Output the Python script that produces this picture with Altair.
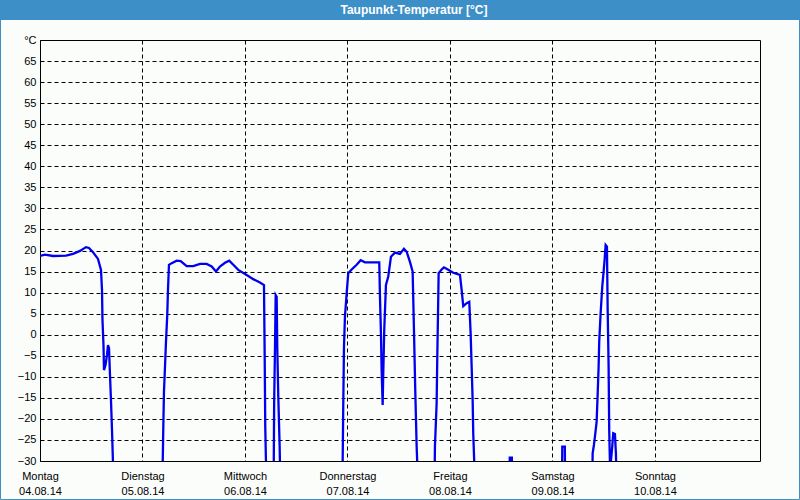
import json
import altair as alt
import pandas as pd

# Hours since Monday 04.08.14 00:00 and dew point values [°C]; values below -30 are off-scale
hours = [0, 1.17, 3.04, 6.09, 7.73, 9.37, 10.77, 11.47, 12.41, 13.58, 14.28, 14.52, 14.63, 14.87, 14.98,
         15.34, 15.69, 15.92, 16.16, 16.39, 16.62, 16.86, 17.09, 17.3,
         28.6, 28.73, 28.87, 29.03, 29.27, 29.5, 29.8, 29.97, 30.2, 30.84, 32.0, 32.94, 34.35, 35.89, 37.46,
         39.03, 40.2, 41.21, 42.14, 43.32, 44.32, 45.26, 46.43, 48.4, 49.94, 51.51, 52.45, 52.61, 52.75,
         52.92, 53.0,
         54.6, 54.74, 54.83, 55.02, 55.19, 55.42, 55.56, 55.8, 56.12, 56.19, 56.3,
         70.8, 70.87, 71.01, 71.18, 71.41, 71.81, 72.18, 72.98, 74.15, 75.09, 76.09, 79.44, 79.61, 79.84,
         80.0, 80.24, 80.38, 80.61, 81.01, 81.55, 82.18, 83.12, 84.29, 85.22, 85.86, 86.63, 87.26, 87.57,
         87.87, 88.2, 88.34, 88.5,
         92.35, 92.44, 92.48, 92.88, 93.02, 93.19, 93.35, 94.05, 94.59, 95.6, 96.77, 98.34, 98.74, 99.11,
         99.91, 100.52, 100.84, 101.08, 101.31, 101.45, 101.69, 101.8,
         109.9, 110.0, 110.5, 110.6,
         122.2, 122.3, 122.9, 123.0,
         129.3, 129.41, 129.71, 129.95, 130.34, 130.58, 130.81, 130.95, 131.28, 131.66, 131.98, 132.22,
         132.45, 132.76, 132.92, 133.15, 133.29, 133.46, 133.6, 134.0, 134.23, 134.63, 134.86, 134.93, 135.1]
dewpoint = [18.7, 19.0, 18.7, 18.8, 19.2, 19.9, 20.8, 20.6, 19.6, 18.0, 15.4, 10.6, 3.5, -2.5, -8.4,
            -7.2, -4.8, -2.5, -3.2, -9.6, -15.5, -22.6, -30.5, -40,
            -40, -30.5, -22.2, -13.5, -7.6, -1.7, 4.7, 10.6, 16.6, 17.0, 17.6, 17.5, 16.3, 16.3, 16.8,
            16.8, 16.2, 15.0, 16.2, 17.1, 17.6, 16.6, 15.4, 14.2, 13.2, 12.4, 11.8, -4.8, -21.9,
            -30.5, -40,
            -40, -30.5, -16.2, -3.6, 9.4, 9.0, -2.9, -14.7, -26.6, -30.5, -40,
            -40, -30.5, -17.1, -2.9, 4.3, 9.8, 14.6, 15.5, 16.6, 17.7, 17.2, 17.2, 9.0, 0.3,
            -8.4, -16.7, -9.2, 1.1, 11.8, 13.8, 18.5, 19.5, 19.2, 20.4, 19.7, 17.3, 15.0, 1.1,
            -13.1, -26.6, -30.5, -40,
            -40, -30.5, -26.6, -16.3, -6.0, 4.3, 14.6, 15.5, 16.0, 15.4, 14.7, 14.2, 10.6, 6.8,
            7.5, 7.8, 0.3, -7.6, -15.5, -23.4, -30.5, -40,
            -40, -29.2, -29.2, -40,
            -40, -26.6, -26.6, -40,
            -40, -28.2, -26.2, -24.2, -20.7, -14.3, -7.6, -1.7, 5.1, 11.4, 15.0, 17.9,
            21.3, 20.9, 6.6, -7.6, -22.6, -30.5, -31, -26.6, -23.4, -23.6, -28.2, -31, -40]

day_names = ["Montag", "Dienstag", "Mittwoch", "Donnerstag", "Freitag", "Samstag", "Sonntag"]
day_dates = ["04.08.14", "05.08.14", "06.08.14", "07.08.14", "08.08.14", "09.08.14", "10.08.14"]
day_ticks = [0, 24, 48, 72, 96, 120, 144]
y_ticks = list(range(-30, 75, 5))
title_text = "Taupunkt-Temperatur [°C]"

FONT = "Liberation Sans"
BLUE_FRAME = "#3c8fc7"
BG = "#fbfdfb"

df = pd.DataFrame({"h": hours, "t": dewpoint})

x_label_expr = ("[" + json.dumps(day_names) + "[round(datum.value/24)], "
                + json.dumps(day_dates) + "[round(datum.value/24)]]")

line = alt.Chart(df).mark_line(color="#0000ee", strokeWidth=2.3, clip=True).encode(
    x=alt.X("h:Q",
            scale=alt.Scale(domain=[0, 168.6], nice=False, zero=False),
            axis=alt.Axis(values=day_ticks, labelExpr=x_label_expr, title=None, grid=True,
                          ticks=False, domain=False, labelPadding=9, labelLineHeight=15,
                          labelFlush=False, labelOverlap=False, labelBaseline="top")),
    y=alt.Y("t:Q",
            scale=alt.Scale(domain=[-30, 70], nice=False, zero=False),
            axis=alt.Axis(values=y_ticks, labelExpr="datum.value == 70 ? '°C' : datum.label",
                          title=None, grid=True, ticks=False, domain=False, labelPadding=4,
                          labelFlush=False, labelOverlap=False)),
)

one = alt.Data(values=[{"t": title_text}])

bar = alt.Chart(one).mark_rect(fill=BLUE_FRAME, stroke=None).encode(
    x=alt.value(-40), x2=alt.value(760), y=alt.value(-40), y2=alt.value(-20))

frame = alt.Chart(one).mark_rect(fill=None, stroke=BLUE_FRAME, strokeWidth=1, filled=False).encode(
    x=alt.value(-39.5), x2=alt.value(759.5), y=alt.value(-40), y2=alt.value(459.5))

title = alt.Chart(one).mark_text(font=FONT, fontSize=12, fontWeight="bold", color="white",
                                 align="center", baseline="middle").encode(
    x=alt.value(374), y=alt.value(-30), text="t:N")

chart = alt.layer(line, bar, frame, title).properties(
    width=720, height=421,
    autosize=alt.AutoSizeParams(type="none"),
    padding={"left": 40, "top": 40, "right": 40, "bottom": 39},
    background=BG,
).configure_view(
    stroke="black", strokeWidth=1, fill=BG
).configure_axis(
    labelFont=FONT, labelFontSize=11, labelColor="black",
    gridColor="black", gridDash=[4, 3], gridWidth=1, gridOpacity=1,
)

chart.save("out.html", embed_options={"renderer": "svg", "actions": False})
